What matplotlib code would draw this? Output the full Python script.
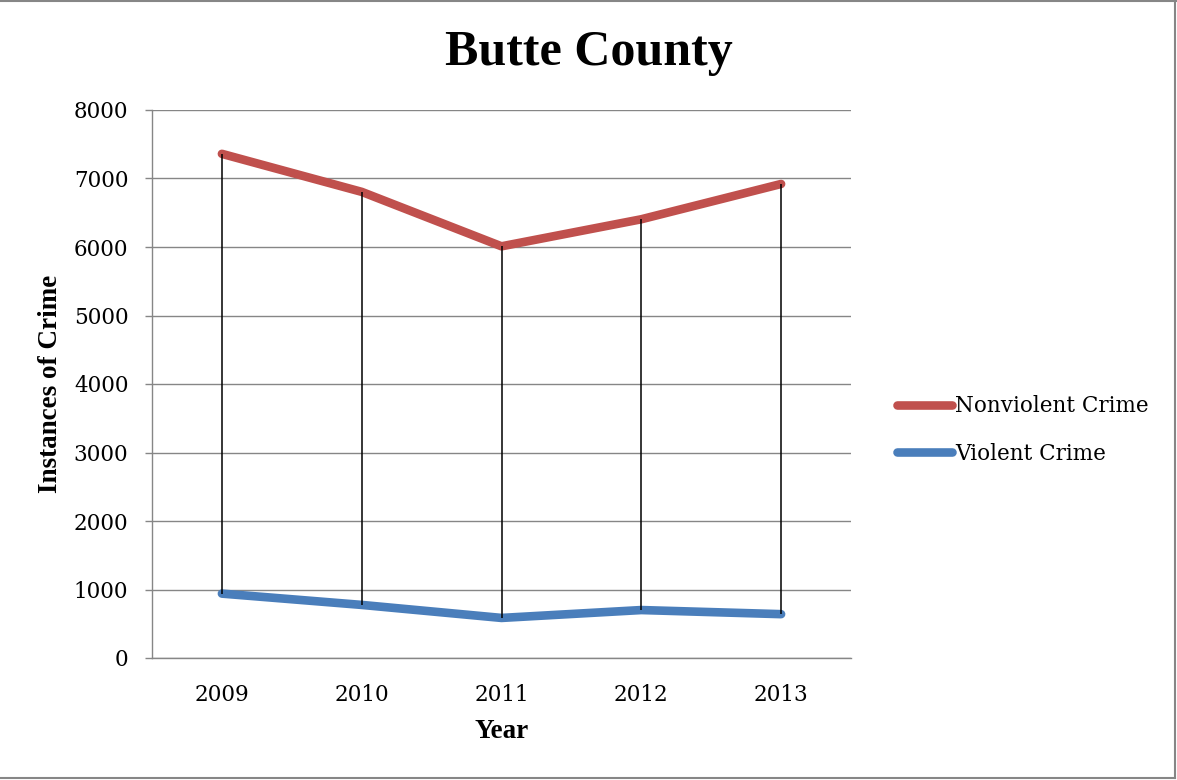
import numpy as np
import matplotlib.pyplot as plt
from matplotlib.lines import Line2D

years = ['2009', '2010', '2011', '2012', '2013']
nonviolent = [7360, 6805, 6010, 6405, 6920]
violent = [940, 775, 585, 700, 640]

RED = '#C0504D'
BLUE = '#4A7EBB'
GRID = '#868686'
REG = 'DejaVu Serif'
BOLD = 'Liberation Serif'

fig = plt.figure(figsize=(11.77, 7.8), dpi=100)
ax = fig.add_axes([152 / 1177, 1 - 658 / 780, 699 / 1177, 548 / 780])

x = np.arange(len(years))
ax.plot(x, nonviolent, color=RED, lw=6.2, solid_capstyle='round',
        solid_joinstyle='round', label='Nonviolent Crime', zorder=3)
ax.plot(x, violent, color=BLUE, lw=6.2, solid_capstyle='round',
        solid_joinstyle='round', label='Violent Crime', zorder=3)
# high-low lines between the two series
ax.vlines(x, violent, nonviolent, color='black', lw=1.1, zorder=4)

ax.set_xlim(-0.5, len(years) - 0.5)
ax.set_ylim(0, 8000)
ax.set_yticks(np.arange(0, 8001, 1000))
ax.set_xticks(x)
ax.set_xticklabels(years)
ax.yaxis.grid(True, color=GRID, lw=1.0)
ax.set_axisbelow(True)

for s in ['top', 'right']:
    ax.spines[s].set_visible(False)
for s in ['left', 'bottom']:
    ax.spines[s].set_color(GRID)
    ax.spines[s].set_linewidth(1.0)

ax.tick_params(axis='y', length=5, width=1.0, color=GRID, pad=12,
               labelsize=15.5, labelfontfamily=REG)
ax.tick_params(axis='x', length=0, pad=19, labelsize=15.5, labelfontfamily=REG)

ax.set_xlabel('Year', fontfamily=BOLD, fontweight='bold', fontsize=19.5)
ax.xaxis.set_label_coords(0.5, -0.111)
ax.set_ylabel('Instances of Crime', fontfamily=BOLD, fontweight='bold', fontsize=19.5)
ax.yaxis.set_label_coords(-0.127, 0.5)

fig.text(0.5, 1 - 53 / 780, 'Butte County', ha='center', va='center',
         fontfamily=BOLD, fontweight='bold', fontsize=36)

leg = ax.legend(loc='center left', bbox_to_anchor=(886 / 1177, 1 - 430 / 780),
                bbox_transform=fig.transFigure, frameon=False,
                prop={'family': REG, 'size': 15.5}, handlelength=2.55,
                handletextpad=0.15, labelspacing=1.2, borderpad=0)

# thin frame around the chart area
for xs, ys in [([0, 1], [0.999, 0.999]), ([0.998, 0.998], [0.003, 0.999]),
               ([0, 0.998], [0.003, 0.003])]:
    fig.add_artist(Line2D(xs, ys, transform=fig.transFigure, color=GRID, lw=1.5))

fig.savefig('out.png', dpi=100)
